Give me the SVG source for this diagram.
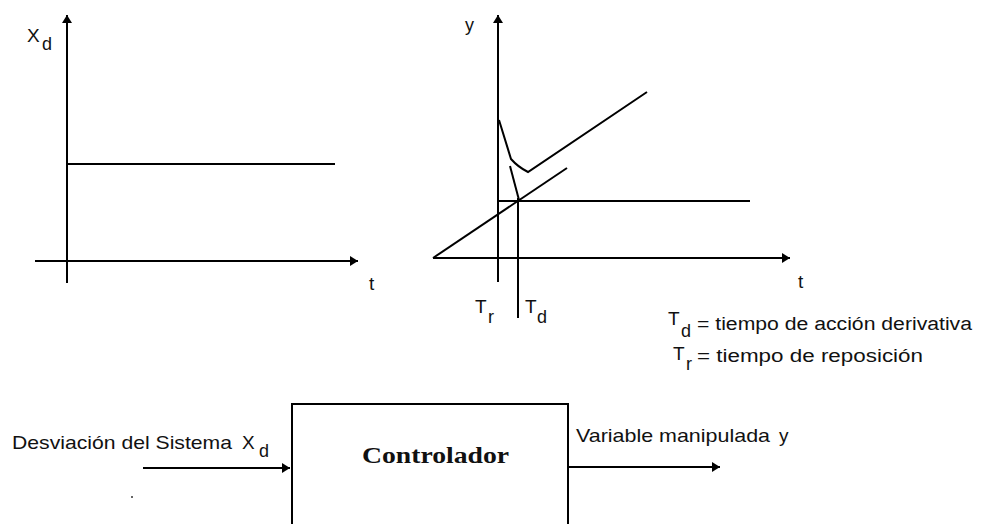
<svg xmlns="http://www.w3.org/2000/svg" width="985" height="524" viewBox="0 0 985 524">
<style>
.ln{stroke:#000;stroke-width:2;fill:none}
.tx{font-family:"Liberation Sans",Arial,sans-serif;font-size:19px;fill:#111}
.sm{font-family:"Liberation Sans",Arial,sans-serif;font-size:18px;fill:#111}
.bd{font-family:"Liberation Serif","Times New Roman",serif;font-size:24px;font-weight:bold;fill:#111}
</style>
<defs>
<marker id="ah" markerUnits="userSpaceOnUse" markerWidth="12" markerHeight="12" refX="9" refY="6" orient="auto">
<path d="M1,1 L9,6 L1,11 Z" fill="#000"/>
</marker>
</defs>
<rect width="985" height="524" fill="#fff"/>
<g id="graph-xd">
<line class="ln" x1="67" y1="283" x2="67" y2="15" marker-end="url(#ah)"/>
<line class="ln" x1="35" y1="261" x2="358" y2="261" marker-end="url(#ah)"/>
<line class="ln" x1="67" y1="164" x2="335" y2="164"/>
<text class="tx" x="27" y="42">X</text>
<text class="sm" x="42" y="50">d</text>
<text class="tx" x="369" y="290">t</text>
</g>
<g id="graph-y">
<line class="ln" x1="498" y1="282" x2="498" y2="15" marker-end="url(#ah)"/>
<line class="ln" x1="433" y1="258" x2="790" y2="258" marker-end="url(#ah)"/>
<line class="ln" x1="433" y1="258" x2="567" y2="168"/>
<line class="ln" x1="498" y1="201" x2="750" y2="201"/>
<line class="ln" x1="518" y1="198" x2="518" y2="318"/>
<path class="ln" d="M499,120 L511,159 Q518,167 528,172 L647,92"/>
<path class="ln" d="M510,166 L519,200"/>
<text class="sm" x="465" y="31">y</text>
<text class="tx" x="798" y="288">t</text>
<text class="tx" x="475" y="313">T</text>
<text class="sm" x="488" y="323">r</text>
<text class="tx" x="525" y="313">T</text>
<text class="sm" x="537" y="323">d</text>
</g>
<g id="legend">
<text class="tx" x="668" y="325">T</text>
<text class="sm" x="681" y="337">d</text>
<text class="sm" x="697" y="330" textLength="275" lengthAdjust="spacingAndGlyphs">= tiempo de acción derivativa</text>
<text class="tx" x="673" y="360">T</text>
<text class="sm" x="686" y="370">r</text>
<text class="sm" x="697" y="362" textLength="226" lengthAdjust="spacingAndGlyphs">= tiempo de reposición</text>
</g>
<g id="controlador">
<path class="ln" d="M292,524 L292,404 L568,404 L568,524"/>
<text class="bd" x="362" y="463" textLength="147" lengthAdjust="spacingAndGlyphs">Controlador</text>
</g>
<g id="input-label">
<text class="tx" x="12" y="449" textLength="220" lengthAdjust="spacingAndGlyphs">Desviación del Sistema</text>
<text class="tx" x="242" y="449">X</text>
<text class="sm" x="259" y="457">d</text>
</g>
<g id="output-label">
<text class="tx" x="576" y="442" textLength="194" lengthAdjust="spacingAndGlyphs">Variable manipulada</text>
<text class="tx" x="779" y="442">y</text>
</g>
<g id="connectors">
<line class="ln" x1="143" y1="468" x2="290" y2="468" marker-end="url(#ah)"/>
<line class="ln" x1="568" y1="467" x2="720" y2="467" marker-end="url(#ah)"/>
</g>
<circle cx="132" cy="497" r="1" fill="#333"/>
</svg>
